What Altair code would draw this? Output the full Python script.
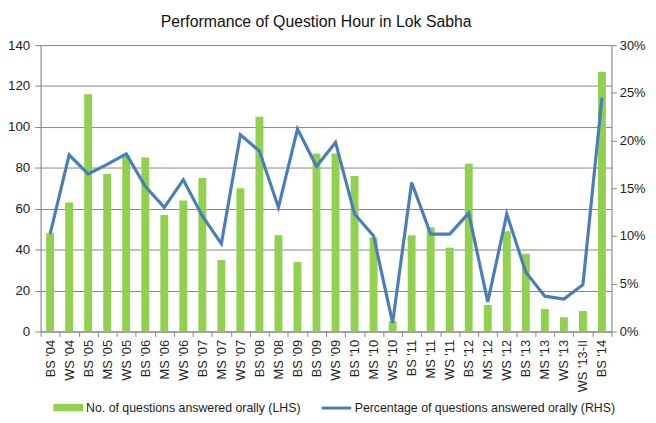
import json
import altair as alt
import pandas as pd

categories = ["BS '04", "WS '04", "BS '05", "MS '05", "WS '05", "BS '06", "MS '06", "WS '06",
              "BS '07", "MS '07", "WS '07", "BS '08", "MS '08", "BS '09", "BS '09", "WS '09",
              "BS '10", "MS '10", "WS '10", "BS '11", "MS '11", "WS '11", "BS '12", "MS '12",
              "WS '12", "BS '13", "MS '13", "WS '13", "WS '13-II", "BS '14"]
answered = [48, 63, 116, 77, 86, 85, 57, 64, 75, 35, 70, 105, 47, 34, 87, 87,
            76, 46, 5, 47, 51, 41, 82, 13, 49, 38, 11, 7, 10, 127]
pct = [10.2, 18.5, 16.5, 17.5, 18.6, 15.2, 13.0, 15.9, 12.1, 9.2, 20.6, 18.9, 13.0, 21.2, 17.3, 19.8,
       12.3, 10.0, 0.9, 15.6, 10.2, 10.2, 12.4, 3.1, 12.3, 6.2, 3.7, 3.4, 4.9, 24.5]

S1 = "No. of questions answered orally (LHS)"
S2 = "Percentage of questions answered orally (RHS)"

df = pd.DataFrame({
    "idx": list(range(len(categories))),
    "answered": answered,
    "pct": pct,
    "s1": S1,
    "s2": S2,
})

FONT = "Liberation Sans, Arial, sans-serif"
GRID = "#868686"
TXT = "#222222"
label_expr = json.dumps(categories) + "[datum.value]"

x = alt.X("idx:O", title=None, scale=alt.Scale(paddingInner=0.0, paddingOuter=0.0),
          axis=alt.Axis(labelExpr=label_expr, labelAngle=270, tickBand="extent",
                        domainColor=GRID, tickColor=GRID, tickSize=5, labelPadding=3,
                        labelFontSize=13, labelColor=TXT, labelFont=FONT))

bars = alt.Chart(df).mark_bar(size=8).encode(
    x=x,
    y=alt.Y("answered:Q", title=None,
            scale=alt.Scale(domain=[0, 140]),
            axis=alt.Axis(values=list(range(0, 141, 20)), grid=True, gridColor=GRID,
                          domainColor=GRID, tickColor=GRID, tickSize=6, labelPadding=5,
                          labelFontSize=13.5, labelColor=TXT, labelFont=FONT)),
    color=alt.Color("s1:N", scale=alt.Scale(domain=[S1], range=["#92D050"]),
                    legend=alt.Legend(orient="none", legendX=12, legendY=351, title=None,
                                      symbolType="M-1,-0.25H1V0.25H-1Z", symbolSize=900,
                                      labelFontSize=12.5, labelFont=FONT, labelColor=TXT,
                                      labelOffset=2, labelLimit=0)),
)

line = alt.Chart(df).mark_line(strokeWidth=3.2).encode(
    x=x,
    y=alt.Y("pct:Q", title=None,
            scale=alt.Scale(domain=[0, 30]),
            axis=alt.Axis(orient="right", values=list(range(0, 31, 5)), grid=False,
                          labelExpr="datum.value + '%'",
                          domainColor=GRID, tickColor=GRID, tickSize=5, labelPadding=3,
                          labelFontSize=13, labelColor=TXT, labelFont=FONT)),
    stroke=alt.Stroke("s2:N", scale=alt.Scale(domain=[S2], range=["#4A7EBB"]),
                      legend=alt.Legend(orient="none", legendX=283, legendY=351, title=None,
                                        symbolType="stroke", symbolSize=900, symbolStrokeWidth=3,
                                        labelFontSize=12.5, labelFont=FONT, labelColor=TXT,
                                        labelOffset=2, labelLimit=0)),
)

chart = alt.layer(bars, line).resolve_scale(y="independent", color="independent").properties(
    width=578, height=290,
    autosize=alt.AutoSizeParams(type="none"),
    padding={"left": 33, "top": 35, "right": 37, "bottom": 82},
    title=alt.TitleParams("Performance of Question Hour in Lok Sabha", font=FONT, fontSize=16,
                          fontWeight="normal", color="#111111", anchor="middle", offset=8, dx=-10),
).configure_view(stroke=None).configure(font=FONT)

chart.save("out.html", embed_options={"renderer": "svg", "actions": False})
